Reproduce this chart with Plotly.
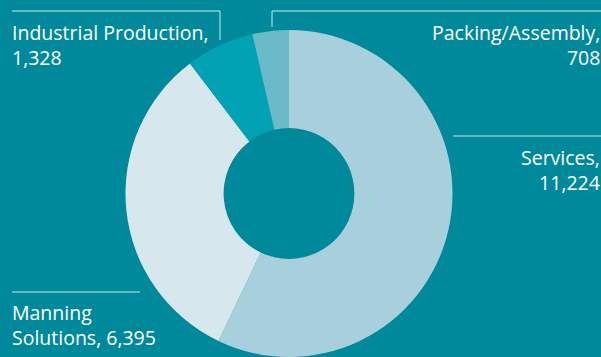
import plotly.graph_objects as go

# Segment data (clockwise from 12 o'clock)
segments = ["Services", "Manning Solutions", "Industrial Production", "Packing/Assembly"]
values = [11224, 6395, 1328, 708]
colors = ["#A7D0DC", "#D6E7ED", "#00A2B4", "#6BBAC9"]

# Callout text per segment
callout_text = {
    "Industrial Production": "Industrial Production,<br>1,328",
    "Packing/Assembly": "Packing/Assembly,<br>708",
    "Services": "Services,<br>11,224",
    "Manning Solutions": "Manning<br>Solutions, 6,395",
}

W, H = 601, 357
BG = "#00899B"
LINE = "#CDE7EC"
FONT = "Open Sans"


def px(x):
    return x / W


def py(y):
    return 1 - y / H


fig = go.Figure(
    go.Pie(
        labels=segments,
        values=values,
        hole=0.40,
        sort=False,
        direction="clockwise",
        rotation=0,
        textinfo="none",
        hoverinfo="label+value",
        marker=dict(colors=colors, line=dict(width=0)),
        domain=dict(x=[px(125.5), px(452.5)], y=[0, 327 / H]),
        showlegend=False,
    )
)

# Callout placement: x, block centre y, anchor
placement = {
    "Industrial Production": (11, 45, "left"),
    "Packing/Assembly": (601, 45, "right"),
    "Services": (601, 170, "right"),
    "Manning Solutions": (11, 325, "left"),
}
for seg, (x, yc, anchor) in placement.items():
    fig.add_annotation(
        text=callout_text[seg], x=px(x), y=py(yc), xref="paper", yref="paper",
        xanchor=anchor, yanchor="middle", align=anchor, showarrow=False,
        font=dict(family=FONT, size=19.5, color="white"), borderpad=0,
    )

# Leader lines
leaders = [
    [(12, 11), (220, 11), (220, 40)],
    [(601, 11), (272, 11), (272, 27)],
    [(453, 136), (601, 136)],
    [(12, 292), (140, 292)],
]
for pts in leaders:
    path = "M " + " L ".join(f"{px(x)},{py(y)}" for x, y in pts)
    fig.add_shape(type="path", path=path, xref="paper", yref="paper",
                  line=dict(color=LINE, width=1))

fig.update_layout(
    width=W, height=H,
    margin=dict(l=0, r=0, t=0, b=0),
    paper_bgcolor=BG, plot_bgcolor=BG,
)

fig.write_html("out.html")
